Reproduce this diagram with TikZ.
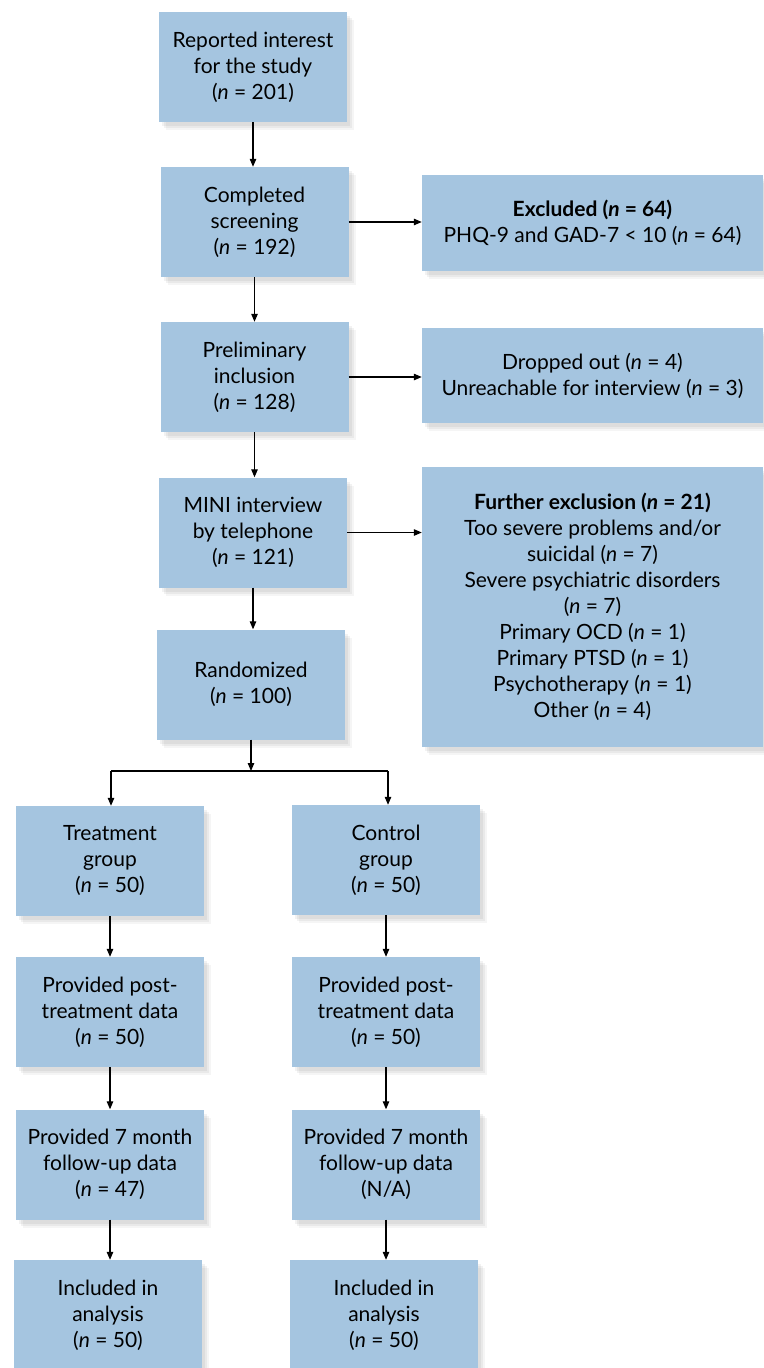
\documentclass[tikz,border=0pt]{standalone}
\usepackage{fontspec}
\setmainfont{Lato}
\usetikzlibrary{arrows.meta,shadows}
\definecolor{boxblue}{HTML}{A5C5E0}
\tikzset{
  softshadow/.style={
    general shadow={fill=black,opacity=0.05,shadow xshift=3bp,shadow yshift=-4bp,shadow scale=1.0},
    general shadow={fill=black,opacity=0.05,shadow xshift=5bp,shadow yshift=-6bp},
    general shadow={fill=black,opacity=0.04,shadow xshift=7bp,shadow yshift=-8bp}},
  flowbox/.style={softshadow,fill=boxblue,align=center,inner sep=0pt,
    minimum width=188bp,minimum height=110bp,
    font=\fontsize{21bp}{26bp}\selectfont},
  sidebox/.style={flowbox,minimum width=341bp},
  arr/.style={line width=1.1bp,-{Triangle[length=8bp,width=6.5bp]}},
  ln/.style={line width=1.1bp}
}
\newcommand{\nn}{\textit{n}}
\begin{document}
\begin{tikzpicture}[x=1bp,y=-1bp]
\useasboundingbox (0,0) rectangle (763,1368);
\node[flowbox] (r1) at (253,67) {Reported interest\\for the study\\(\nn{} = 201)};
\node[flowbox] (c1) at (254.5,222) {Completed\\screening\\(\nn{} = 192)};
\node[sidebox,minimum height=96bp] (ex) at (592.5,223) {\textbf{Excluded (\textit{n} = 64)}\\PHQ-9 and GAD-7 < 10 (\nn{} = 64)};
\node[flowbox] (pi) at (254.5,377) {Preliminary\\inclusion\\(\nn{} = 128)};
\node[sidebox,minimum height=95bp] (dr) at (592.5,375.5) {Dropped out (\nn{} = 4)\\Unreachable for interview (\nn{} = 3)};
\node[flowbox] (mi) at (253,532.5) {MINI interview\\by telephone\\(\nn{} = 121)};
\node[sidebox,minimum height=280bp] (fu) at (592.5,607) {\textbf{Further exclusion (\textit{n} = 21)}\\Too severe problems and/or\\suicidal (\nn{} = 7)\\Severe psychiatric disorders\\(\nn{} = 7)\\Primary OCD (\nn{} = 1)\\Primary PTSD (\nn{} = 1)\\Psychotherapy (\nn{} = 1)\\Other (\nn{} = 4)};
\node[flowbox] (ra) at (251,684.5) {Randomized\\(\nn{} = 100)};
\node[flowbox] (t1) at (110,861) {Treatment\\group\\(\nn{} = 50)};
\node[flowbox] (k1) at (386,860) {Control\\group\\(\nn{} = 50)};
\node[flowbox] (t2) at (110,1012) {Provided post-\\treatment data\\(\nn{} = 50)};
\node[flowbox] (k2) at (386,1012) {Provided post-\\treatment data\\(\nn{} = 50)};
\node[flowbox] (t3) at (110,1164.5) {Provided 7 month\\follow-up data\\(\nn{} = 47)};
\node[flowbox] (k3) at (386,1164.5) {Provided 7 month\\follow-up data\\(N/A)};
\node[flowbox] (t4) at (108,1315) {Included in\\analysis\\(\nn{} = 50)};
\node[flowbox] (k4) at (384,1315) {Included in\\analysis\\(\nn{} = 50)};
\coordinate (sp) at (251,771);
\coordinate (spl) at (111,771);
\coordinate (spr) at (388,771);
\draw[arr] (r1.south) -- (r1.south |- c1.north);
\draw[arr] (c1.south) -- (c1.south |- pi.north);
\draw[arr] (pi.south) -- (pi.south |- mi.north);
\draw[arr] (mi.south) -- (mi.south |- ra.north);
\draw[arr] (c1.east) -- (c1.east -| ex.west);
\draw[arr] (pi.east) -- (pi.east -| dr.west);
\draw[arr] (mi.east) -- (mi.east -| fu.west);
\draw[arr] (ra.south) -- (sp);
\draw[ln] (spl) -- (spr);
\draw[arr] (spl) -- (spl |- t1.north);
\draw[arr] (spr) -- (spr |- k1.north);
\draw[arr] (t1.south) -- (t1.south |- t2.north);
\draw[arr] (k1.south) -- (k1.south |- k2.north);
\draw[arr] (t2.south) -- (t2.south |- t3.north);
\draw[arr] (k2.south) -- (k2.south |- k3.north);
\draw[arr] (t3.south) -- (t3.south |- t4.north);
\draw[arr] (k3.south) -- (k3.south |- k4.north);
\end{tikzpicture}
\end{document}
